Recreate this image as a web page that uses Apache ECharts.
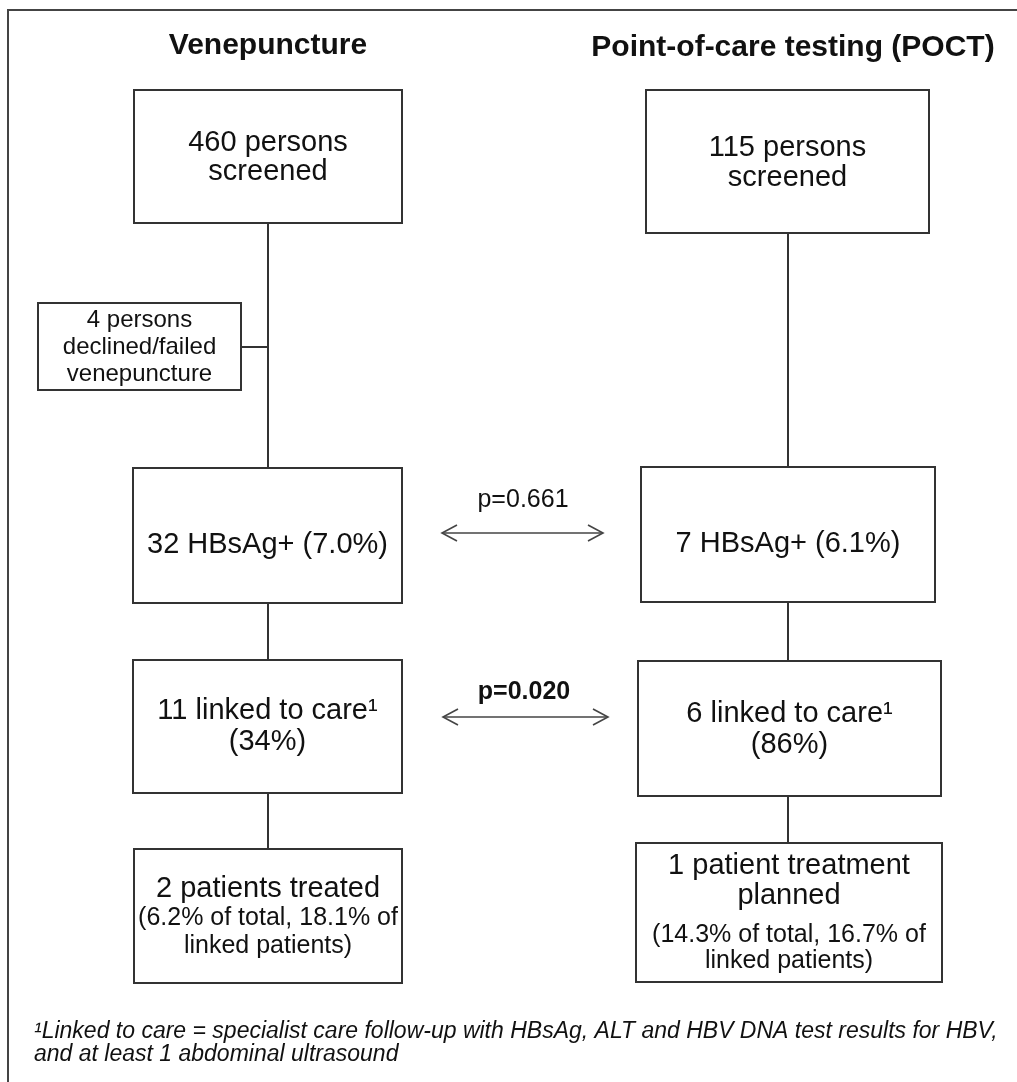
<!DOCTYPE html>
<html>
<head>
<meta charset="utf-8">
<script src="https://cdn.jsdelivr.net/npm/echarts@6/dist/echarts.min.js"></script>
<style>
  html, body { margin: 0; padding: 0; background: #fff; }
  #flow { width: 1017px; height: 1082px; }
</style>
</head>
<body>
<div id="flow"></div>
<script>
// column headings
const titles = ['Venepuncture', 'Point-of-care testing (POCT)'];
// box texts, one array per box (left column, then right column per step)
const boxText = [
  ['460 persons', 'screened'],
  ['115 persons', 'screened'],
  ['4 persons', 'declined/failed', 'venepuncture'],
  ['32 HBsAg+ (7.0%)'],
  ['7 HBsAg+ (6.1%)'],
  ['11 linked to care\u00b9', '(34%)'],
  ['6 linked to care\u00b9', '(86%)'],
  ['2 patients treated', '(6.2% of total, 18.1% of', 'linked patients)'],
  ['1 patient treatment', 'planned', '(14.3% of total, 16.7% of', 'linked patients)']
];
const pValues = ['p=0.661', 'p=0.020'];
const footnote = [
  '\u00b9Linked to care = specialist care follow-up with HBsAg, ALT and HBV DNA test results for HBV,',
  'and at least 1 abdominal ultrasound'
];

// layout in the diagram's own units (hidden axes map them to the page)
const boxRect = [
  [134, 90, 402, 223], [646, 90, 929, 233], [38, 303, 241, 390],
  [133, 468, 402, 603], [641, 467, 935, 602],
  [133, 660, 402, 793], [638, 661, 941, 796],
  [134, 849, 402, 983], [636, 843, 942, 982]
];
const lineY = [
  [143, 172], [148, 178], [320, 347, 374],
  [545], [544],
  [711, 742], [714, 745],
  [889, 918, 946], [866, 896, 935, 961]
];
const lineSize = [
  [29, 29], [29, 29], [24, 24, 24],
  [29], [29],
  [29, 29], [29, 29],
  [29, 25, 25], [29, 29, 25, 25]
];
const connectors = [
  [[268, 223], [268, 468]], [[268, 603], [268, 660]], [[268, 793], [268, 849]],
  [[241, 347], [268, 347]],
  [[788, 233], [788, 467]], [[788, 602], [788, 661]], [[788, 796], [788, 843]]
];
const arrows = [[442, 603, 533], [443, 608, 717]];
const pPos = [[523, 500, 'normal'], [524, 692, 'bold']];
const titlePos = [[268, 46], [793, 48]];
const footPos = [[34, 1032], [34, 1055]];
const frame = [[8, 1082], [8, 10], [1017, 10]];

const FONT = '"Liberation Sans", Arial, sans-serif';
const chart = echarts.init(document.getElementById('flow'));

function boxItem(params, api) {
  const i = api.value(4);
  const a = api.coord([api.value(0), api.value(1)]);
  const b = api.coord([api.value(2), api.value(3)]);
  const cx = (api.value(0) + api.value(2)) / 2;
  const children = [{
    type: 'rect',
    shape: { x: a[0], y: a[1], width: b[0] - a[0], height: b[1] - a[1] },
    style: { fill: '#fff', stroke: '#333', lineWidth: 2 }
  }];
  boxText[i].forEach(function (t, j) {
    const c = api.coord([cx, lineY[i][j]]);
    children.push({
      type: 'text', x: c[0], y: c[1],
      style: { text: t, font: lineSize[i][j] + 'px ' + FONT, fill: '#111', align: 'center', verticalAlign: 'middle' }
    });
  });
  return { type: 'group', children: children };
}

function arrowItem(params, api) {
  const a = api.coord([api.value(0), api.value(2)]);
  const b = api.coord([api.value(1), api.value(2)]);
  const s = { stroke: '#444', lineWidth: 1.6, fill: null };
  return {
    type: 'group',
    children: [
      { type: 'line', shape: { x1: a[0], y1: a[1], x2: b[0], y2: b[1] }, style: s },
      { type: 'polyline', shape: { points: [[a[0] + 15, a[1] - 8], a, [a[0] + 15, a[1] + 8]] }, style: s },
      { type: 'polyline', shape: { points: [[b[0] - 15, b[1] - 8], b, [b[0] - 15, b[1] + 8]] }, style: s }
    ]
  };
}

function textItem(texts, font, align) {
  return function (params, api) {
    const i = params.dataIndex;
    const c = api.coord([api.value(0), api.value(1)]);
    return {
      type: 'text', x: c[0], y: c[1],
      style: { text: texts[i], font: font(i), fill: '#111', align: align, verticalAlign: 'middle' }
    };
  };
}

const option = {
  animation: false,
  backgroundColor: '#fff',
  grid: { left: 0, right: 0, top: 0, bottom: 0 },
  xAxis: { type: 'value', min: 0, max: 1017, show: false },
  yAxis: { type: 'value', min: 0, max: 1082, inverse: true, show: false },
  series: [
    {
      type: 'lines', coordinateSystem: 'cartesian2d', polyline: true, silent: true,
      lineStyle: { color: '#444', width: 2, opacity: 1 },
      data: [{ coords: frame }]
    },
    {
      type: 'lines', coordinateSystem: 'cartesian2d', silent: true, z: 1,
      lineStyle: { color: '#333', width: 2, opacity: 1 },
      data: connectors.map(function (c) { return { coords: c }; })
    },
    {
      type: 'custom', renderItem: boxItem, clip: false, z: 3,
      data: boxRect.map(function (r, i) { return [r[0], r[1], r[2], r[3], i]; })
    },
    {
      type: 'custom', renderItem: arrowItem, clip: false,
      data: arrows
    },
    {
      type: 'custom', clip: false,
      renderItem: textItem(pValues, function (i) { return pPos[i][2] + ' 25px ' + FONT; }, 'center'),
      data: pPos.map(function (p) { return [p[0], p[1]]; })
    },
    {
      type: 'custom', clip: false,
      renderItem: textItem(titles, function () { return 'bold 30px ' + FONT; }, 'center'),
      data: titlePos
    },
    {
      type: 'custom', clip: false,
      renderItem: textItem(footnote, function () { return 'italic 23px ' + FONT; }, 'left'),
      data: footPos
    }
  ]
};

chart.setOption(option);
</script>
</body>
</html>
